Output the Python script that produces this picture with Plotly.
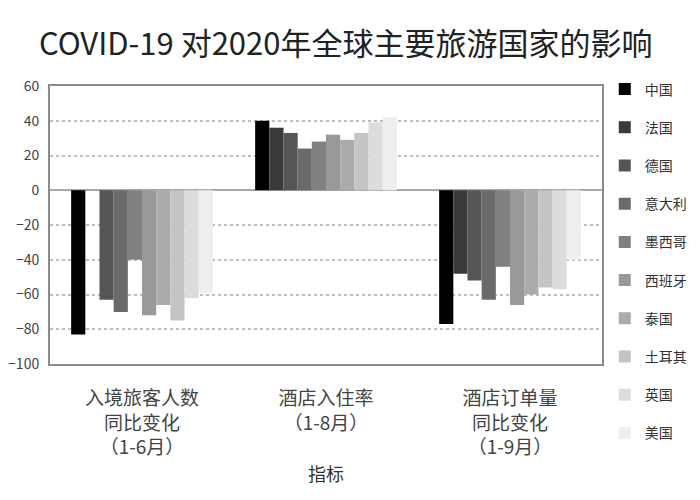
import plotly.graph_objects as go

# 国家 / 指标
countries = ["中国", "法国", "德国", "意大利", "墨西哥", "西班牙", "泰国", "土耳其", "英国", "美国"]
categories = ["入境旅客人数<br>同比变化<br>（1-6月）", "酒店入住率<br>（1-8月）", "酒店订单量<br>同比变化<br>（1-9月）"]

# 各国数值 (入境旅客, 入住率, 订单量)
china = [-83, 40, -77]
france = [None, 36, -48]
germany = [-63, 33, -52]
italy = [-70, 24, -63]
mexico = [-40, 28, -44]
spain = [-72, 32, -66]
thailand = [-66, 29, -60]
turkey = [-75, 33, -56]
uk = [-62, 39, -57]
usa = [-59, 42, -40]

series = [china, france, germany, italy, mexico, spain, thailand, turkey, uk, usa]
colors = ["#000000", "#3a3a3a", "#555555", "#6a6a6a", "#808080",
          "#999999", "#ababab", "#c4c4c4", "#dcdcdc", "#eeeeee"]

font_cn = "Noto Sans CJK SC"

fig = go.Figure()
for name, vals, c in zip(countries, series, colors):
    fig.add_trace(go.Bar(x=categories, y=vals, name=name, marker=dict(color=c, line=dict(width=0)),
                         legendgroup=name))

# page body has an 8px margin, so the figure is a bit smaller than the window
fig.update_layout(
    width=692, height=492,
    paper_bgcolor="white", plot_bgcolor="white",
    font=dict(family=font_cn, color="#444444"),
    title=dict(text="COVID-19 对2020年全球主要旅游国家的影响", x=0.488, xanchor="center",
               y=0.927, yanchor="middle", font=dict(size=31, color="#222222", family=font_cn)),
    barmode="group", bargap=0.23, bargroupgap=0,
    margin=dict(l=42, r=98, t=78, b=136, autoexpand=False),
    legend=dict(x=1.005, xanchor="left", y=1.045, yanchor="top", tracegroupgap=17,
                maxheight=470, font=dict(size=14, color="#333333", family=font_cn),
                bgcolor="rgba(0,0,0,0)"),
)
fig.update_xaxes(showline=True, mirror=True, linecolor="#8c8c8c", linewidth=2,
                 tickfont=dict(size=19, color="#444444"), ticklabelstandoff=16,
                 title=dict(text="指标", font=dict(size=18, color="#333333"), standoff=10))
fig.update_yaxes(range=[-100, 60], dtick=20, showline=True, mirror=True, linecolor="#8c8c8c",
                 linewidth=2, showgrid=True, gridcolor="#bdbdbd", griddash="dot", gridwidth=1.5,
                 zeroline=True, zerolinecolor="#a8a8a8", zerolinewidth=2,
                 tickfont=dict(size=14, color="#444444"), ticklabelstandoff=6)

fig.write_html("out.html")
